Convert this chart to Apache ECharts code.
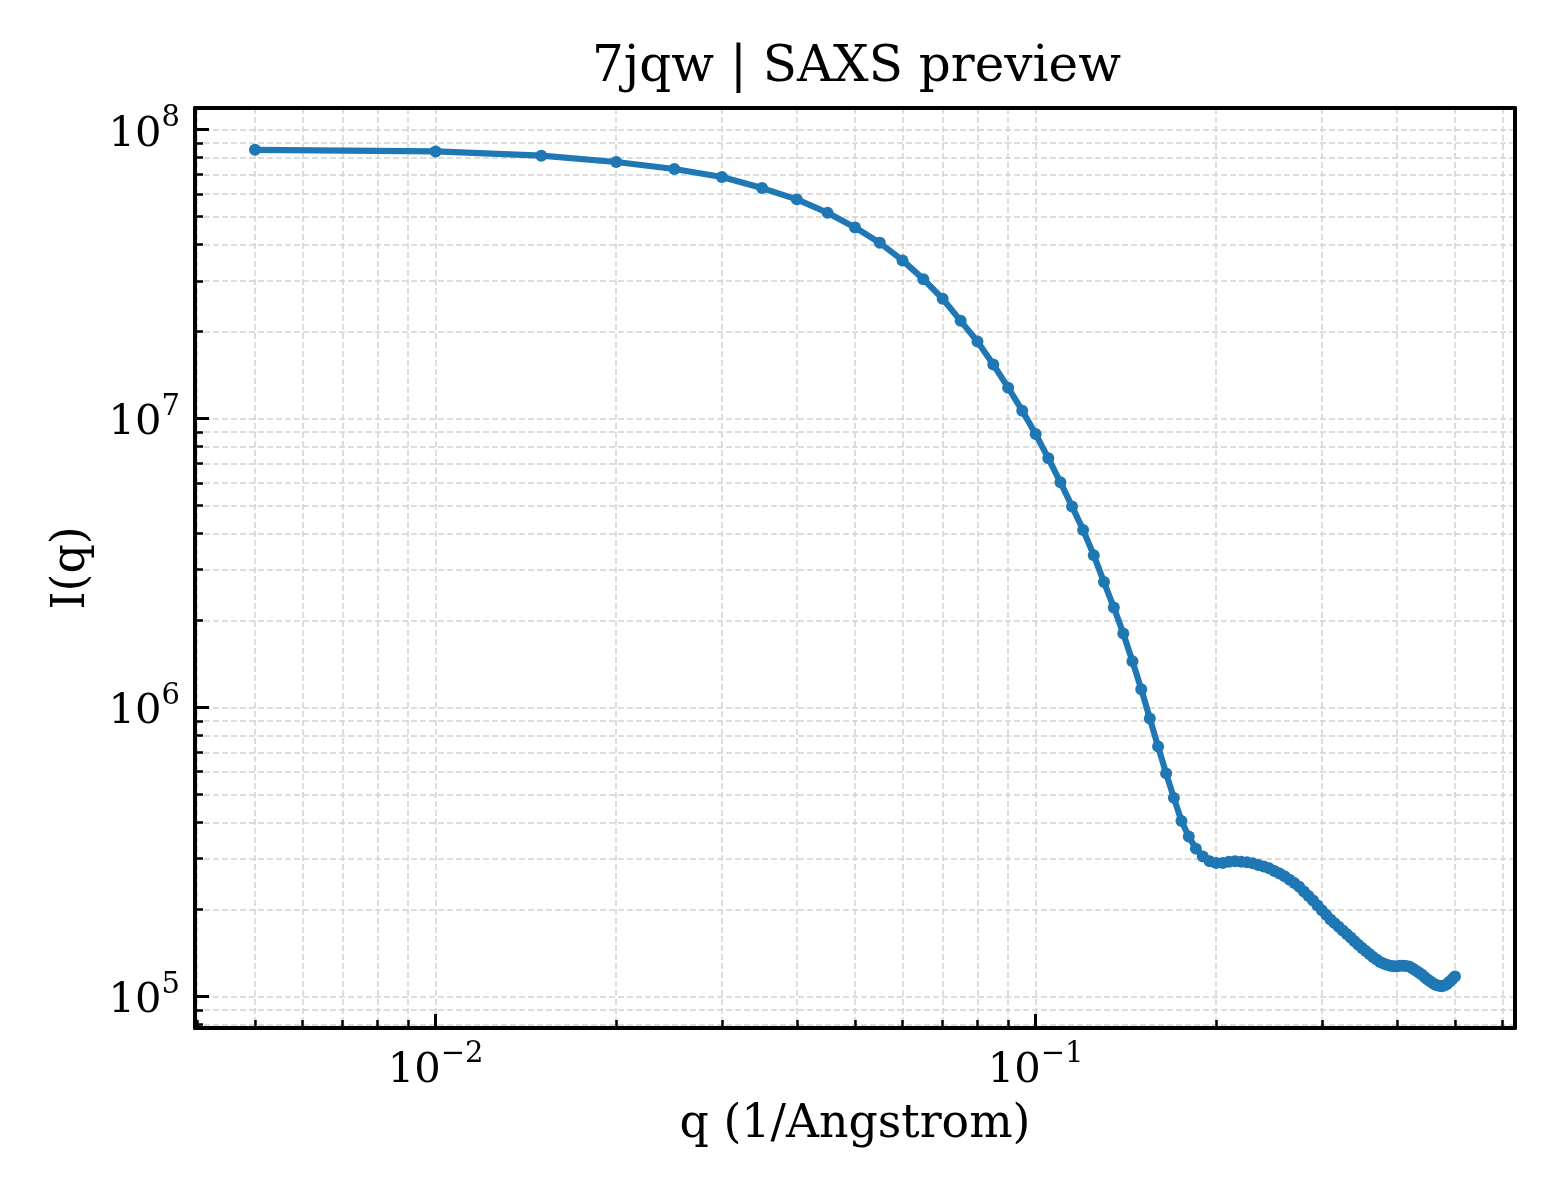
<!DOCTYPE html>
<html lang="en">
<head>
  <meta charset="UTF-8">
  <title>7jqw | SAXS preview</title>
  <style>
    html, body { margin: 0; padding: 0; background: #fff; }
    #saxsChart { width: 1560px; height: 1200px; }
  </style>
  <script src="https://cdn.jsdelivr.net/npm/echarts@6.0.0/dist/echarts.min.js"></script>
</head>
<body>
  <div id="saxsChart"></div>
  <script>
    // scattering vector q (1/Angstrom)
    var qValues = [
      0.005, 0.010, 0.015, 0.020, 0.025, 0.030, 0.035, 0.040, 0.045, 0.050,
      0.055, 0.060, 0.065, 0.070, 0.075, 0.080, 0.085, 0.090, 0.095, 0.100,
      0.105, 0.110, 0.115, 0.120, 0.125, 0.130, 0.135, 0.140, 0.145, 0.150,
      0.155, 0.160, 0.165, 0.170, 0.175, 0.180, 0.185, 0.190, 0.195, 0.200,
      0.205, 0.210, 0.215, 0.220, 0.225, 0.230, 0.235, 0.240, 0.245, 0.250,
      0.255, 0.260, 0.265, 0.270, 0.275, 0.280, 0.285, 0.290, 0.295, 0.300,
      0.305, 0.310, 0.315, 0.320, 0.325, 0.330, 0.335, 0.340, 0.345, 0.350,
      0.355, 0.360, 0.365, 0.370, 0.375, 0.380, 0.385, 0.390, 0.395, 0.400,
      0.405, 0.410, 0.415, 0.420, 0.425, 0.430, 0.435, 0.440, 0.445, 0.450,
      0.455, 0.460, 0.465, 0.470, 0.475, 0.480, 0.485, 0.490, 0.495, 0.500
    ];
    // I(q)
    var intensity = [
      8.52e7, 8.41e7, 8.13e7, 7.73e7, 7.31e7, 6.86e7, 6.28e7, 5.74e7, 5.16e7, 4.59e7,
      4.06e7, 3.53e7, 3.04e7, 2.60e7, 2.18e7, 1.85e7, 1.54e7, 1.28e7, 1.066e7, 8.85e6,
      7.29e6, 6.02e6, 4.97e6, 4.12e6, 3.37e6, 2.72e6, 2.22e6, 1.806e6, 1.447e6, 1.158e6,
      9.17e5, 7.33e5, 5.92e5, 4.87e5, 4.05e5, 3.58e5, 3.25e5, 3.05e5, 2.94e5, 2.90e5,
      2.90e5, 2.925e5, 2.94e5, 2.93e5, 2.913e5, 2.89e5, 2.855e5, 2.82e5, 2.777e5, 2.72e5,
      2.668e5, 2.609e5, 2.537e5, 2.469e5, 2.399e5, 2.311e5, 2.230e5, 2.151e5, 2.067e5, 1.987e5,
      1.917e5, 1.849e5, 1.795e5, 1.744e5, 1.693e5, 1.647e5, 1.602e5, 1.555e5, 1.512e5, 1.473e5,
      1.438e5, 1.404e5, 1.371e5, 1.344e5, 1.317e5, 1.301e5, 1.288e5, 1.279e5, 1.274e5, 1.274e5,
      1.278e5, 1.278e5, 1.275e5, 1.268e5, 1.251e5, 1.231e5, 1.211e5, 1.192e5, 1.169e5, 1.146e5,
      1.127e5, 1.109e5, 1.096e5, 1.090e5, 1.086e5, 1.092e5, 1.105e5, 1.127e5, 1.150e5, 1.173e5
    ];

    var xMajorTicks = [0.01, 0.1];
    var xMinorTicks = [0.004, 0.005, 0.006, 0.007, 0.008, 0.009,
                       0.02, 0.03, 0.04, 0.05, 0.06, 0.07, 0.08, 0.09,
                       0.2, 0.3, 0.4, 0.5, 0.6];
    var yMajorTicks = [1e5, 1e6, 1e7, 1e8];
    var yMinorTicks = [8e4, 9e4,
                       2e5, 3e5, 4e5, 5e5, 6e5, 7e5, 8e5, 9e5,
                       2e6, 3e6, 4e6, 5e6, 6e6, 7e6, 8e6, 9e6,
                       2e7, 3e7, 4e7, 5e7, 6e7, 7e7, 8e7, 9e7];

    var FONT = 'DejaVu Serif';
    var BLUE = '#1f77b4';
    var gridLine = { show: true, lineStyle: { color: '#d2d2d2', width: 1.5, type: [6, 3] } };

    // same 5% padding in log space that matplotlib uses
    function logLimits(vals) {
      var lo = Math.log10(Math.min.apply(null, vals));
      var hi = Math.log10(Math.max.apply(null, vals));
      var pad = 0.05 * (hi - lo);
      return [Math.pow(10, lo - pad), Math.pow(10, hi + pad)];
    }
    var xLim = logLimits(qValues);
    var yLim = logLimits(intensity);

    function powerLabel(v) {
      var e = Math.round(Math.log10(v));
      return '{b|10}{s|' + (e < 0 ? '\u2212' + (-e) : e) + '}';
    }
    var tickRich = {
      b: { fontFamily: FONT, fontSize: 41.7, lineHeight: 52, verticalAlign: 'bottom', color: '#000' },
      s: { fontFamily: FONT, fontSize: 29, lineHeight: 29, verticalAlign: 'top', color: '#000' }
    };
    var nameStyle = { fontFamily: FONT, fontSize: 45.8, color: '#000' };

    // one log axis for the minor grid/ticks, one for the decades, one for the frame edge
    function makeAxes(lim, minor, major, pos, framePos, name, nameGap) {
      return [
        {
          type: 'log', min: lim[0], max: lim[1], position: pos,
          axisLine: { show: false },
          axisTick: { show: true, inside: true, length: 8, customValues: minor,
                      lineStyle: { color: '#000', width: 2.5 } },
          axisLabel: { show: false },
          splitLine: gridLine
        },
        {
          type: 'log', min: lim[0], max: lim[1], position: pos,
          axisLine: { show: true, onZero: false, lineStyle: { color: '#000', width: 4 } },
          axisTick: { show: true, inside: true, length: 14, customValues: major,
                      lineStyle: { color: '#000', width: 3 } },
          axisLabel: { show: true, customValues: major, formatter: powerLabel,
                       margin: pos === 'bottom' ? 12 : 15, rich: tickRich, color: '#000' },
          splitLine: gridLine,
          name: name, nameLocation: 'middle', nameGap: nameGap,
          nameRotate: pos === 'left' ? 90 : 0,
          nameTextStyle: nameStyle
        },
        {
          type: 'log', min: lim[0], max: lim[1], position: framePos,
          axisLine: { show: true, onZero: false, lineStyle: { color: '#000', width: 4 } },
          axisTick: { show: false },
          axisLabel: { show: false },
          splitLine: { show: false }
        }
      ];
    }

    var myChart = echarts.init(document.getElementById('saxsChart'));
    var option = {
      animation: false,
      backgroundColor: '#fff',
      textStyle: { fontFamily: FONT },
      title: {
        text: '7jqw | SAXS preview',
        left: 592,
        top: 43,
        padding: 0,
        textStyle: { fontFamily: FONT, fontSize: 50, fontWeight: 'normal', color: '#000' }
      },
      grid: { left: 195, right: 45, top: 108, bottom: 172, containLabel: false },
      xAxis: makeAxes(xLim, xMinorTicks, xMajorTicks, 'bottom', 'top', 'q (1/Angstrom)', 74),
      yAxis: makeAxes(yLim, yMinorTicks, yMajorTicks, 'left', 'right', 'I(q)', 100),
      series: [
        {
          type: 'line',
          xAxisIndex: 1,
          yAxisIndex: 1,
          data: qValues.map(function (q, i) { return [q, intensity[i]]; }),
          symbol: 'circle',
          symbolSize: 12,
          showSymbol: true,
          showAllSymbol: true,
          lineStyle: { color: BLUE, width: 6.2 },
          itemStyle: { color: BLUE, borderWidth: 0 },
          z: 5
        }
      ]
    };
    myChart.setOption(option);
  </script>
</body>
</html>
